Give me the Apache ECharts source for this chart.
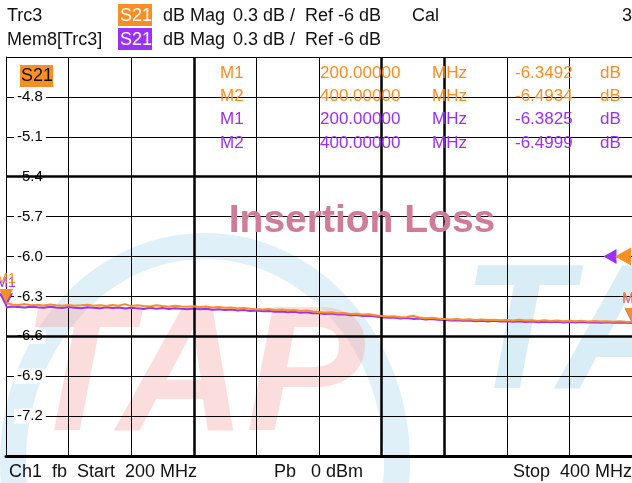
<!DOCTYPE html>
<html>
<head>
<meta charset="utf-8">
<script src="https://cdn.jsdelivr.net/npm/echarts@6/dist/echarts.min.js"></script>
<style>
  html, body { margin: 0; padding: 0; background: #fff; }
  #chart { width: 632px; height: 483px; }
</style>
</head>
<body>
<div id="chart"></div>
<script>
// sweep: 200 .. 400 MHz, one reading every 2 MHz
const startMHz = 200;
const stepMHz = 2;

// Trc3 (orange) dB values
const trcVals = [
  -6.349, -6.361, -6.365, -6.358, -6.367, -6.363, -6.369, -6.361, -6.366, -6.370,
  -6.365, -6.371, -6.367, -6.362, -6.370, -6.366, -6.372, -6.364, -6.370, -6.358,
  -6.373, -6.367, -6.372, -6.376, -6.366, -6.373, -6.377, -6.370, -6.375, -6.378,
  -6.374, -6.379, -6.376, -6.383, -6.380, -6.386, -6.383, -6.390, -6.387, -6.393,
  -6.396, -6.399, -6.395, -6.402, -6.399, -6.405, -6.402, -6.409, -6.406, -6.413,
  -6.418, -6.422, -6.419, -6.427, -6.424, -6.432, -6.430, -6.437, -6.435, -6.442,
  -6.448, -6.452, -6.449, -6.456, -6.454, -6.445, -6.458, -6.464, -6.461, -6.467,
  -6.470, -6.473, -6.470, -6.475, -6.472, -6.477, -6.474, -6.478, -6.475, -6.479,
  -6.477, -6.481, -6.476, -6.482, -6.479, -6.484, -6.480, -6.485, -6.481, -6.486,
  -6.483, -6.487, -6.484, -6.488, -6.485, -6.489, -6.486, -6.490, -6.487, -6.491,
  -6.493
];

// Mem8[Trc3] (purple) dB values
const memVals = [
  -6.383, -6.376, -6.380, -6.384, -6.377, -6.382, -6.386, -6.378, -6.383, -6.387,
  -6.380, -6.385, -6.389, -6.381, -6.386, -6.390, -6.382, -6.388, -6.384, -6.391,
  -6.385, -6.390, -6.394, -6.386, -6.392, -6.388, -6.395, -6.389, -6.393, -6.397,
  -6.391, -6.396, -6.393, -6.400, -6.396, -6.403, -6.399, -6.406, -6.402, -6.409,
  -6.406, -6.412, -6.409, -6.416, -6.413, -6.419, -6.416, -6.423, -6.420, -6.427,
  -6.426, -6.432, -6.429, -6.437, -6.434, -6.442, -6.440, -6.447, -6.445, -6.452,
  -6.456, -6.461, -6.458, -6.466, -6.463, -6.469, -6.466, -6.473, -6.470, -6.476,
  -6.478, -6.482, -6.479, -6.484, -6.481, -6.486, -6.483, -6.488, -6.484, -6.489,
  -6.486, -6.491, -6.487, -6.492, -6.489, -6.494, -6.490, -6.495, -6.491, -6.496,
  -6.492, -6.496, -6.493, -6.497, -6.494, -6.498, -6.495, -6.499, -6.496, -6.498,
  -6.4999
];

// marker readouts
const markerNames = ['M1', 'M2'];
const markerFreqs = [200, 400];
const trcMarkerVals = [-6.3492, -6.4934];
const memMarkerVals = [-6.3825, -6.4999];

// axis
const yMin = -7.5, yMax = -4.5, yStep = 0.3;
const xMin = 200, xMax = 400, xStep = 20;
const refLevel = -6;
const thickX = [260, 320, 340];
const thickY = [-5.4, -6.6];

const ORANGE = '#F98E24';
const PURPLE = '#9B30F6';
const FONT = "'Liberation Sans', Arial, sans-serif";

const trcData = trcVals.map((v, i) => [startMHz + i * stepMHz, v]);
const memData = memVals.map((v, i) => [startMHz + i * stepMHz, v]);

const myChart = echarts.init(document.getElementById('chart'));

const txt = (x, y, text, color, size) => ({
  type: 'text', x: x, y: y, z: 50,
  style: { text: text, fill: color, font: size + 'px ' + FONT, textVerticalAlign: 'middle' }
});

// down triangle with its name above, tip sitting on the trace
const markerPoint = (name, coord, color) => ({
  name: name, coord: coord,
  symbol: 'triangle', symbolRotate: 180, symbolSize: [14, 14], symbolOffset: [0, -7],
  itemStyle: { color: color },
  label: { show: true, position: 'top', distance: 3, color: color, fontSize: 14, fontFamily: FONT, formatter: name }
});

const tableRows = [];
markerNames.forEach((n, i) => tableRows.push([n, markerFreqs[i], trcMarkerVals[i], ORANGE]));
markerNames.forEach((n, i) => tableRows.push([n, markerFreqs[i], memMarkerVals[i], PURPLE]));

const graphics = [
  // watermark logo
  { type: 'ellipse', z: -10, silent: true, shape: { cx: 205, cy: 462, rx: 192, ry: 216 },
    style: { fill: 'none', stroke: '#E0F0F8', lineWidth: 26 } },
  { type: 'text', z: -9, silent: true, x: 22, y: 292,
    style: { text: 'TAP', fill: 'rgba(246,160,160,0.36)', font: 'italic bold 178px ' + FONT } },
  { type: 'text', z: -9, silent: true, x: 462, y: 250,
    style: { text: 'TA', fill: 'rgba(140,200,232,0.33)', font: 'italic bold 178px ' + FONT } },

  // header
  txt(7, 16, 'Trc3', '#111', 18),
  { type: 'rect', z: 50, shape: { x: 118, y: 4, width: 34, height: 22 }, style: { fill: ORANGE } },
  txt(120, 16, 'S21', '#fff', 18),
  txt(163, 16, 'dB Mag', '#111', 18),
  txt(233, 16, '0.3 dB /', '#111', 18),
  txt(305, 16, 'Ref -6 dB', '#111', 18),
  txt(412, 16, 'Cal', '#111', 18),
  txt(622, 16, '3', '#111', 18),
  txt(7, 40, 'Mem8[Trc3]', '#111', 18),
  { type: 'rect', z: 50, shape: { x: 118, y: 28, width: 34, height: 22 }, style: { fill: PURPLE } },
  txt(120, 40, 'S21', '#fff', 18),
  txt(163, 40, 'dB Mag', '#111', 18),
  txt(233, 40, '0.3 dB /', '#111', 18),
  txt(305, 40, 'Ref -6 dB', '#111', 18),

  // trace tag inside plot
  { type: 'rect', z: 50, shape: { x: 20, y: 65, width: 33, height: 22 }, style: { fill: ORANGE } },
  txt(21, 76, 'S21', '#111', 18),

  // title
  { type: 'text', z: 40, x: 362, y: 221,
    style: { text: 'Insertion Loss', fill: '#D07C98', font: 'bold 39px ' + FONT,
      textAlign: 'center', textVerticalAlign: 'middle' } },

  // footer
  txt(9, 472, 'Ch1  fb  Start  200 MHz', '#111', 18),
  txt(274, 472, 'Pb   0 dBm', '#111', 18),
  txt(513, 472, 'Stop  400 MHz', '#111', 18)
];

tableRows.forEach((r, i) => {
  const y = 73 + i * 23.3;
  graphics.push(txt(220, y, r[0], r[3], 17));
  graphics.push(txt(320, y, r[1].toFixed(5), r[3], 17));
  graphics.push(txt(432, y, 'MHz', r[3], 17));
  graphics.push(txt(515, y, r[2].toFixed(4), r[3], 17));
  graphics.push(txt(600, y, 'dB', r[3], 17));
});

const option = {
  animation: false,
  backgroundColor: '#fff',
  grid: { left: 6, top: 57, width: 627, height: 399 },
  xAxis: {
    type: 'value', min: xMin, max: xMax, interval: xStep,
    axisLine: { show: true, onZero: false, lineStyle: { color: '#000', width: 3 } },
    axisTick: { show: false },
    axisLabel: { show: false },
    splitLine: { show: true, lineStyle: { color: '#000', width: 1 } }
  },
  yAxis: {
    type: 'value', min: yMin, max: yMax, interval: yStep,
    axisLine: { show: true, lineStyle: { color: '#000', width: 1 } },
    axisTick: { show: false },
    axisLabel: {
      inside: true, margin: 8, color: '#000', fontSize: 15, fontFamily: FONT,
      backgroundColor: '#fff', padding: [0, 3],
      formatter: v => (Math.abs(v - yMin) < 1e-6 || Math.abs(v - yMax) < 1e-6) ? '' : v.toFixed(1)
    },
    splitLine: { show: true, lineStyle: { color: '#000', width: 1 } },
    z: 3
  },
  graphic: graphics,
  series: [
    {
      type: 'line', data: [], z: 1, silent: true,
      markLine: {
        silent: true, symbol: 'none', label: { show: false },
        lineStyle: { color: '#000', width: 2.5, type: 'solid' },
        data: thickX.map(v => ({ xAxis: v })).concat(thickY.map(v => ({ yAxis: v })))
      }
    },
    {
      name: 'Mem8[Trc3]', type: 'line', data: memData, showSymbol: false, z: 4,
      lineStyle: { color: PURPLE, width: 2 },
      markPoint: {
        silent: true,
        data: markerNames.map((n, i) => markerPoint(n, [markerFreqs[i], memMarkerVals[i]], PURPLE)).concat([
          { name: 'refMem', coord: [xMax, refLevel], symbol: 'triangle', symbolRotate: 90,
            symbolSize: [15, 13], symbolOffset: [-22, 0], itemStyle: { color: PURPLE }, label: { show: false } }
        ])
      }
    },
    {
      name: 'Trc3', type: 'line', data: trcData, showSymbol: false, z: 5,
      lineStyle: { color: ORANGE, width: 2 },
      markPoint: {
        silent: true,
        data: markerNames.map((n, i) => markerPoint(n, [markerFreqs[i], trcMarkerVals[i]], ORANGE)).concat([
          { name: 'ref', coord: [xMax, refLevel], symbol: 'triangle', symbolRotate: 90,
            symbolSize: [18, 16], symbolOffset: [-9, 0], itemStyle: { color: ORANGE }, label: { show: false } }
        ])
      }
    }
  ]
};

myChart.setOption(option);
</script>
</body>
</html>
